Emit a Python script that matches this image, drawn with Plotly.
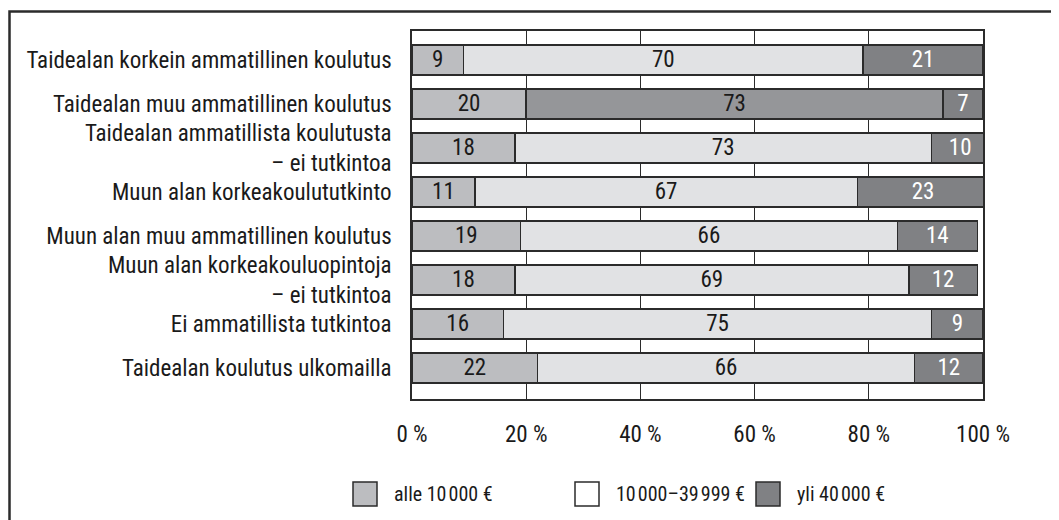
import plotly.graph_objects as go

categories = [
    "Taidealan korkein ammatillinen koulutus",
    "Taidealan muu ammatillinen koulutus",
    "Taidealan ammatillista koulutusta<br>– ei tutkintoa",
    "Muun alan korkeakoulututkinto",
    "Muun alan muu ammatillinen koulutus",
    "Muun alan korkeakouluopintoja<br>– ei tutkintoa",
    "Ei ammatillista tutkintoa",
    "Taidealan koulutus ulkomailla",
]
low = [9, 20, 18, 11, 19, 18, 16, 22]
mid = [70, 73, 73, 67, 66, 69, 75, 66]
high = [21, 7, 10, 23, 14, 12, 9, 12]
series_names = ["alle 10\u200a000 €", "10\u200a000–39\u200a999 €", "yli 40\u200a000 €"]
tick_vals = [0, 20, 40, 60, 80, 100]
tick_text = ["0 %", "20 %", "40 %", "60 %", "80 %", "100 %"]

C_LOW = "#bcbdc0"
C_MID = "#e1e2e4"
C_HIGH = "#808184"
C_MID_ALT = "#959699"  # second row middle segment as in the original
EDGE = "#2b2b2b"
FONT = "Liberation Sans Narrow, Roboto Condensed, DejaVu Sans Condensed, Arial Narrow, sans-serif"
FS = 23

mid_colors = [C_MID_ALT if i == 1 else C_MID for i in range(len(categories))]

fig = go.Figure()
common = dict(orientation="h", width=0.68, textposition="inside",
              insidetextanchor="middle", textangle=0, constraintext="none",
              hoverinfo="skip")
fig.add_trace(go.Bar(y=categories, x=low, name=series_names[0], text=low,
                     marker=dict(color=C_LOW, line=dict(color=EDGE, width=1.5)),
                     textfont=dict(family=FONT, size=FS, color="#1a1a1a"), **common))
fig.add_trace(go.Bar(y=categories, x=mid, name=series_names[1], text=mid,
                     marker=dict(color=mid_colors, line=dict(color=EDGE, width=1.5)),
                     textfont=dict(family=FONT, size=FS, color="#1a1a1a"), **common))
fig.add_trace(go.Bar(y=categories, x=high, name=series_names[2], text=high,
                     marker=dict(color=C_HIGH, line=dict(color=EDGE, width=1.5)),
                     textfont=dict(family=FONT, size=FS, color="#ffffff"), **common))

# page offset of the plot div (browser body margin)
OFF = 8
W, H = 1059 - OFF, 520 - OFF
L, R, T, B = 412 - OFF, 983 - OFF, 31 - OFF, 399 - OFF
pw, ph = R - L, B - T

def px(x):
    return (x - OFF - L) / pw

def py(y):
    return (B - (y - OFF)) / ph

shapes = []
annotations = []
# outer frame (right and bottom edges lie outside the picture)
shapes.append(dict(type="rect", xref="paper", yref="paper",
                   x0=px(9.5), x1=px(1090), y0=py(570), y1=py(11.5),
                   line=dict(color=EDGE, width=2.5), fillcolor="rgba(0,0,0,0)", layer="below"))
# legend
leg_x = [353, 575, 756]
leg_colors = [C_LOW, "#ffffff", C_HIGH]
for xs, col, name in zip(leg_x, leg_colors, series_names):
    shapes.append(dict(type="rect", xref="paper", yref="paper",
                       x0=px(xs), x1=px(xs + 24), y0=py(506), y1=py(482),
                       line=dict(color=EDGE, width=1.5), fillcolor=col))
    annotations.append(dict(xref="paper", yref="paper", x=px(xs + 39), y=py(494),
                            text=name, showarrow=False, xanchor="left", yanchor="middle",
                            font=dict(family=FONT, size=20, color="#1a1a1a")))

fig.update_layout(
    barmode="stack",
    width=W, height=H,
    margin=dict(l=L, r=W - R, t=T, b=H - B, pad=0),
    paper_bgcolor="white", plot_bgcolor="white",
    showlegend=False,
    font=dict(family=FONT, size=FS, color="#1a1a1a"),
    shapes=shapes, annotations=annotations,
    xaxis=dict(range=[0, 100], tickvals=tick_vals, ticktext=tick_text,
               showgrid=True, gridcolor=EDGE, gridwidth=1.3, zeroline=False,
               showline=True, linecolor=EDGE, linewidth=1.5, mirror=True,
               ticks="", ticklabelstandoff=14,
               tickfont=dict(family=FONT, size=FS, color="#1a1a1a")),
    yaxis=dict(type="category", range=[7.705, -0.659], showgrid=False,
               showline=True, linecolor=EDGE, linewidth=1.5, mirror=True,
               ticks="", ticklabelstandoff=14,
               tickfont=dict(family=FONT, size=FS, color="#1a1a1a")),
)

fig.write_html("out.html")
